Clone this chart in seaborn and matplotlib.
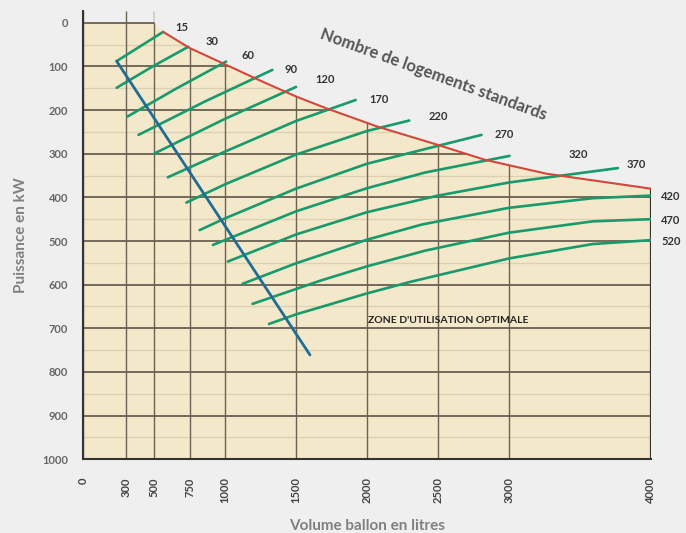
import numpy as np
import pandas as pd
import matplotlib
matplotlib.use("Agg")
import matplotlib.pyplot as plt
from matplotlib.patches import Polygon
import seaborn as sns

# graduations
x_ticks = [0, 300, 500, 750, 1000, 1500, 2000, 2500, 3000, 4000]
y_ticks = list(range(0, 1001, 100))

# courbes "nombre de logements standards" : volume ballon (L) / puissance (kW)
vol_15 = [235, 563];                                   kw_15 = [88, 21]
vol_30 = [235, 490, 740];                              kw_30 = [149, 100, 55]
vol_60 = [311, 660, 1007];                             kw_60 = [215, 150, 89]
vol_90 = [389, 860, 1333];                             kw_90 = [257, 180, 108]
vol_120 = [504, 1000, 1500];                           kw_120 = [299, 220, 147]
vol_170 = [596, 1000, 1500, 1920];                     kw_170 = [354, 295, 225, 177]
vol_220 = [727, 1000, 1500, 2000, 2298];               kw_220 = [412, 370, 302, 248, 224]
vol_270 = [820, 1000, 1500, 2000, 2500, 2807];         kw_270 = [475, 448, 380, 323, 282, 257]
vol_320 = [914, 1500, 2000, 2411, 3005];               kw_320 = [509, 432, 379, 343, 305]
vol_370 = [1019, 1500, 2000, 2500, 3000, 3769];        kw_370 = [547, 485, 434, 396, 366, 333]
vol_420 = [1123, 1500, 2000, 2390, 3000, 3590, 4000];  kw_420 = [598, 551, 497, 462, 424, 402, 396]
vol_470 = [1193, 1679, 2000, 2411, 3000, 3590, 4000];  kw_470 = [644, 590, 558, 522, 481, 455, 450]
vol_520 = [1309, 1500, 2000, 2300, 3000, 3590, 4000];  kw_520 = [690, 668, 620, 594, 540, 507, 498]

logements = [15, 30, 60, 90, 120, 170, 220, 270, 320, 370, 420, 470, 520]
courbes_vol = [vol_15, vol_30, vol_60, vol_90, vol_120, vol_170, vol_220,
               vol_270, vol_320, vol_370, vol_420, vol_470, vol_520]
courbes_kw = [kw_15, kw_30, kw_60, kw_90, kw_120, kw_170, kw_220,
              kw_270, kw_320, kw_370, kw_420, kw_470, kw_520]

# limite haute (rouge) et droite de dimensionnement (bleue)
vol_limite = [563, 750, 984, 1250, 1500, 1713, 2074, 2481, 2832, 3268, 4000]
kw_limite = [21, 58, 93, 133, 169, 196, 238, 278, 314, 346, 380]
vol_optimal = [235, 1598]
kw_optimal = [88, 761]

# position des etiquettes de courbes
label_x = [696, 907, 1161, 1464, 1704, 2085, 2501, 2966, 3488, 3896, 4143, 4143, 4143]
label_y = [10, 44, 74, 108, 131, 175, 214, 255, 301, 324, 399, 454, 500]

df = pd.DataFrame({
    "volume": np.concatenate(courbes_vol),
    "puissance": np.concatenate(courbes_kw),
    "logements": np.repeat(logements, [len(v) for v in courbes_vol]),
})

sns.set_style("white")
plt.rcParams["font.family"] = ["Lato", "DejaVu Sans"]

bg = "#efefef"
fig, ax = plt.subplots(figsize=(6.86, 5.33), dpi=100, facecolor=bg)
fig.subplots_adjust(left=83.3 / 686, right=650.7 / 686, top=1 - 10.5 / 533, bottom=1 - 459.3 / 533)
ax.set_facecolor(bg)
ax.set_xlim(0, 4000)
ax.set_ylim(1000, -28)

# zone beige
zone = list(zip([0, 500] + vol_limite + [4000, 0], [0, 0] + kw_limite + [1000, 1000]))
ax.add_patch(Polygon(zone, closed=True, facecolor="#f4e8cb", edgecolor="none", zorder=0))
clip = Polygon(list(zip([0, 500, 500] + vol_limite + [4000, 0],
                        [-28, -28, 0] + kw_limite + [1000, 1000])),
               closed=True, transform=ax.transData, facecolor="none", edgecolor="none")
ax.add_patch(clip)

minor = ax.hlines(range(50, 1000, 100), 0, 4000, color="#dccfb2", lw=0.9, zorder=1)
major = ax.hlines(range(0, 1000, 100), 0, 4000, color="#5e5548", lw=1.2, zorder=2)
vert = ax.vlines(x_ticks, -28, 1000, color="#6b6253", lw=1.0, zorder=2)
for c in (minor, major, vert):
    c.set_clip_path(clip)
ax.vlines(4000, kw_limite[-1], 1000, color="#333333", lw=1.6, zorder=3)

sns.lineplot(data=df, x="volume", y="puissance", units="logements", estimator=None,
             sort=False, color="#189a6c", lw=1.9, ax=ax, zorder=4)
sns.lineplot(x=vol_limite, y=kw_limite, sort=False, color="#d2473b", lw=1.5, ax=ax, zorder=5)
sns.lineplot(x=vol_optimal, y=kw_optimal, sort=False, color="#1f6d94", lw=2.0, ax=ax, zorder=5)

for n, lx, ly in zip(logements, label_x, label_y):
    ax.text(lx, ly, str(n), ha="center", va="center", fontsize=8, fontweight="bold",
            color="#333333", clip_on=False)

ax.text(2470, 118, "Nombre de logements standards", rotation=-20, rotation_mode="anchor",
        ha="center", va="center", fontsize=12, fontweight="bold", color="#555555")
ax.text(2571, 681, "ZONE D'UTILISATION OPTIMALE", ha="center", va="center",
        fontsize=7.5, fontweight="bold", color="#222222")

ax.set_xticks(x_ticks)
ax.set_xticklabels([str(t) for t in x_ticks], rotation=90)
ax.set_yticks(y_ticks)
ax.tick_params(axis="x", length=10, width=1.2, color="#555555", pad=3,
               labelsize=8, labelcolor="#444444")
ax.tick_params(axis="y", length=8, width=1.2, color="#333333", pad=3,
               labelsize=8, labelcolor="#666666")
for lab in ax.get_xticklabels() + ax.get_yticklabels():
    lab.set_fontweight("bold")

for s in ("top", "right"):
    ax.spines[s].set_visible(False)
for s in ("left", "bottom"):
    ax.spines[s].set_color("#333333")
    ax.spines[s].set_linewidth(1.5)

ax.set_xlabel("Volume ballon en litres", fontsize=11, fontweight="bold", color="#808080", labelpad=11)
ax.set_ylabel("Puissance en kW", fontsize=11, fontweight="bold", color="#808080", labelpad=10)

plt.savefig("out.png", dpi=100, facecolor=bg)
